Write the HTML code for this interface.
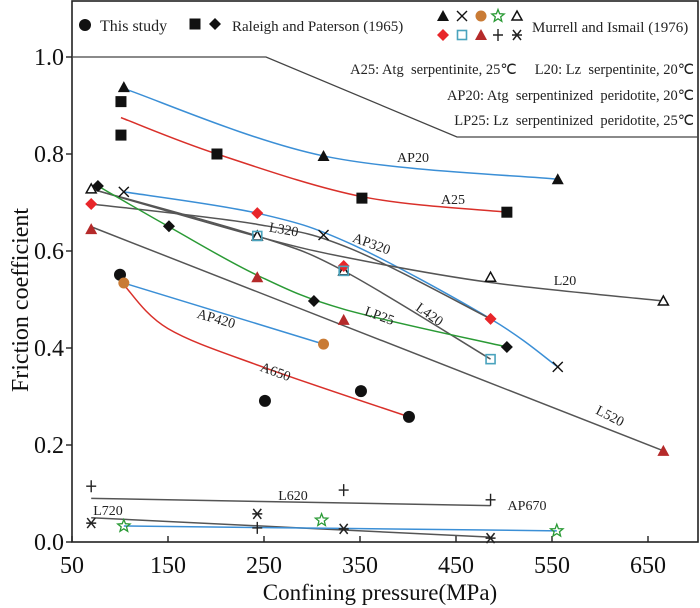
<!DOCTYPE html>
<html><head><meta charset="utf-8"><style>
html,body{margin:0;padding:0;background:#fff;}
svg{display:block;font-family:"Liberation Serif",serif;}
</style></head><body>
<svg id="chart" width="700" height="608" viewBox="0 0 700 608" xmlns="http://www.w3.org/2000/svg">
<rect x="72" y="1" width="626" height="541" fill="#fff" stroke="#222" stroke-width="1.6"/>
<g id="axes"></g><g id="curves"></g><g id="marks"></g><g id="labels"></g>
<g id="legend"></g>
</svg>
<script>
// ---- data ----
const xTicks = [50,150,250,350,450,550,650];
const yTicks = [0.0,0.2,0.4,0.6,0.8,1.0];
const thisStudyP = [100,251,351,401];
const thisStudyF = [0.551,0.291,0.311,0.258];
const squaresP = [101,101,201,352,503];
const squaresF = [0.908,0.839,0.800,0.709,0.680];
const diamondsP = [77,151,302,503];
const diamondsF = [0.734,0.651,0.497,0.402];
const triP = [104,312,556]; const triF = [0.938,0.796,0.748];
const xP = [104,312,556]; const xF = [0.722,0.633,0.361];
const orangeP = [104,312]; const orangeF = [0.534,0.408];
const starP = [104,310,555]; const starF = [0.033,0.045,0.023];
const openTriP = [70,243,333,486,666]; const openTriF = [0.728,0.631,0.559,0.546,0.497];
const redDiaP = [70,243,333,486]; const redDiaF = [0.697,0.678,0.569,0.460];
const openSqP = [243,333,486]; const openSqF = [0.631,0.559,0.377];
const redTriP = [70,243,333,666]; const redTriF = [0.645,0.546,0.458,0.188];
const plusP = [70,333,486,243]; const plusF = [0.115,0.107,0.087,0.029];
const astP = [70,243,333,486]; const astF = [0.039,0.058,0.027,0.008];
// fit curves
const curveNames = ["AP20","A25","AP320","L320","L20","L420","LP25","L520","AP420","A650","L620","L720","AP670"];
const curveP = [[104,312,556],[101,201,352,503],[104,243,340,486,556],[70,243,340,486],[70,243,340,486,666],[70,243,333,486],[77,151,243,333,503],[70,666],[104,312],[104,150,250,401],[70,486],[70,486],[104,555]];
const curveF = [[0.935,0.796,0.748],[0.875,0.800,0.712,0.680],[0.722,0.678,0.615,0.460,0.361],[0.697,0.655,0.605,0.460],[0.728,0.630,0.585,0.535,0.497],[0.728,0.631,0.559,0.377],[0.734,0.650,0.550,0.480,0.402],[0.650,0.188],[0.534,0.408],[0.530,0.440,0.360,0.258],[0.090,0.075],[0.050,0.010],[0.033,0.023]];
const curveColors = ["#3b8fd6","#d9302a","#3b8fd6","#555","#555","#555","#2a9a35","#555","#3b8fd6","#d9302a","#555","#555","#3b8fd6"];

const X = p => 72 + (p-50)*0.96;
const Y = v => 542 - v*485;
const NS="http://www.w3.org/2000/svg";
function el(tag, attrs, parent){const e=document.createElementNS(NS,tag);for(const k in attrs)e.setAttribute(k,attrs[k]);parent.appendChild(e);return e;}
const axes=document.getElementById('axes');
xTicks.forEach(t=>{
  const l=el('line',{x1:X(t),x2:X(t),y1:542,y2:536,stroke:'#222','stroke-width':1.4},axes);
  
  
  const tx=el('text',{x:X(t),y:573,'font-size':24,'text-anchor':'middle',fill:'#111'},axes);tx.textContent=t;
  
  
});
yTicks.forEach(t=>{
  const l=el('line',{x1:66,x2:72,y1:Y(t),y2:Y(t),stroke:'#222','stroke-width':1.4},axes);
  
  
  const tx=el('text',{x:64,y:Y(t)+8,'font-size':24,'text-anchor':'end',fill:'#111'},axes);tx.textContent=t.toFixed(1);
  
  
});
let t=el('text',{x:380,y:600,'font-size':23,'text-anchor':'middle',fill:'#111'},axes);t.textContent='Confining pressure(MPa)';


t=el('text',{x:0,y:0,'font-size':24,'text-anchor':'middle',fill:'#111',transform:'translate(28,300) rotate(-90)'},axes);t.textContent='Friction coefficient';



const cg=document.getElementById('curves');
function pathFor(ps,fs){
  const pts=ps.map((p,i)=>[X(p),Y(fs[i])]);
  let d='M'+pts[0][0]+','+pts[0][1];
  for(let i=0;i<pts.length-1;i++){
    const p0=pts[i-1]||pts[i],p1=pts[i],p2=pts[i+1],p3=pts[i+2]||p2;
    const c1=[p1[0]+(p2[0]-p0[0])/6,p1[1]+(p2[1]-p0[1])/6];
    const c2=[p2[0]-(p3[0]-p1[0])/6,p2[1]-(p3[1]-p1[1])/6];
    d+=' C'+c1+' '+c2+' '+p2;
  }
  return d;
}
curveNames.forEach((n,i)=>{
  const p=el('path',{d:pathFor(curveP[i],curveF[i]),fill:'none',stroke:curveColors[i],'stroke-width':1.5},cg);
  
  
});

function marker(g,type,x,y){
  let e;
  switch(type){
    case 'circle': e=el('circle',{cx:x,cy:y,r:6,fill:'#111'},g);break;
    case 'orange': e=el('circle',{cx:x,cy:y,r:5.5,fill:'#c97b35'},g);break;
    case 'square': e=el('rect',{x:x-5.5,y:y-5.5,width:11,height:11,fill:'#111'},g);break;
    case 'opensq': e=el('rect',{x:x-4.5,y:y-4.5,width:9,height:9,fill:'none',stroke:'#4aa3bd','stroke-width':1.6},g);break;
    case 'diamond': e=el('path',{d:`M${x},${y-6}L${x+6},${y}L${x},${y+6}L${x-6},${y}Z`,fill:'#111'},g);break;
    case 'reddia': e=el('path',{d:`M${x},${y-6}L${x+6},${y}L${x},${y+6}L${x-6},${y}Z`,fill:'#e8262a'},g);break;
    case 'tri': e=el('path',{d:`M${x},${y-6}L${x+6},${y+5}L${x-6},${y+5}Z`,fill:'#111'},g);break;
    case 'redtri': e=el('path',{d:`M${x},${y-6}L${x+6},${y+5}L${x-6},${y+5}Z`,fill:'#b52a2a'},g);break;
    case 'opentri': e=el('path',{d:`M${x},${y-5}L${x+5},${y+4}L${x-5},${y+4}Z`,fill:'#fff',stroke:'#111','stroke-width':1.5},g);break;
    case 'x': e=el('path',{d:`M${x-5},${y-5}L${x+5},${y+5}M${x+5},${y-5}L${x-5},${y+5}`,stroke:'#111','stroke-width':1.4},g);break;
    case 'plus': e=el('path',{d:`M${x-5},${y}L${x+5},${y}M${x},${y-6}L${x},${y+6}`,stroke:'#222','stroke-width':1.4},g);break;
    case 'ast': e=el('path',{d:`M${x-4},${y-5}L${x+4},${y+5}M${x+4},${y-5}L${x-4},${y+5}M${x-5},${y}L${x+5},${y}`,stroke:'#222','stroke-width':1.5},g);break;
    case 'star': {let d='';for(let k=0;k<10;k++){const a=-Math.PI/2+k*Math.PI/5,r=k%2?2.8:6.5;d+=(k?'L':'M')+(x+r*Math.cos(a)).toFixed(1)+','+(y+r*Math.sin(a)).toFixed(1);}
      e=el('path',{d:d+'Z',fill:'none',stroke:'#2a9a35','stroke-width':1.3},g);break;}
  }
  return e;
}
const mg=document.getElementById('marks');
const series=[['circle',thisStudyP,thisStudyF],['square',squaresP,squaresF],['diamond',diamondsP,diamondsF],['tri',triP,triF],['x',xP,xF],['orange',orangeP,orangeF],['star',starP,starF],['opentri',openTriP,openTriF],['reddia',redDiaP,redDiaF],['opensq',openSqP,openSqF],['redtri',redTriP,redTriF],['plus',plusP,plusF],['ast',astP,astF]];
series.forEach(s=>{
  s[1].forEach((p,i)=>{
    const m=marker(mg,s[0],X(p),Y(s[2][i]));
    
    
  });
});

const lg=document.getElementById('labels');
const lbls=[['AP20',413,162,0],['A25',453,204,0],['AP320',370,248,20],['L20',565,285,0],['LP25',378,320,20],['L420',427,318,35],['L520',608,420,27],['L320',283,234,10],['AP420',215,323,16],['A650',274,376,20],['L620',293,500,0],['L720',108,515,0],['AP670',527,510,0]];
lbls.forEach(l=>{
  const tx=el('text',{x:l[1],y:l[2],'font-size':14,'text-anchor':'middle',fill:'#222',transform:`rotate(${l[3]} ${l[1]} ${l[2]})`},lg);
  tx.textContent=l[0];
  
  
});

const leg=document.getElementById('legend');
const bl=el('path',{d:'M72,57 L266,57 L457,137 L698,137',fill:'none',stroke:'#444','stroke-width':1.3},leg);


const legMarks=[['circle',85,25],['square',195,24],['diamond',215,24],['tri',443,16],['x',462,16],['orange',481,16],['star',498,16],['opentri',517,16],['reddia',443,35],['opensq',462,35],['redtri',481,35],['plus',498,35],['ast',517,35]];
legMarks.forEach(m=>{
  const e=marker(leg,m[0],m[1],m[2]);
  
  
});
const legTexts=[['This study',100,31,'start',16],['Raleigh and Paterson (1965)',232,31,'start',15],['Murrell and Ismail (1976)',532,32,'start',15],
['A25: Atg  serpentinite, 25℃     L20: Lz  serpentinite, 20℃',694,74,'end',14.5],
['AP20: Atg  serpentinized  peridotite, 20℃',694,100,'end',14.5],
['LP25: Lz  serpentinized  peridotite, 25℃',694,125,'end',14.5]];
legTexts.forEach(l=>{
  const tx=el('text',{x:l[1],y:l[2],'font-size':l[4],'text-anchor':l[3],fill:'#222'},leg);
  tx.style.whiteSpace='pre';
  tx.textContent=l[0];
  
  
});
</script>
</body></html>
